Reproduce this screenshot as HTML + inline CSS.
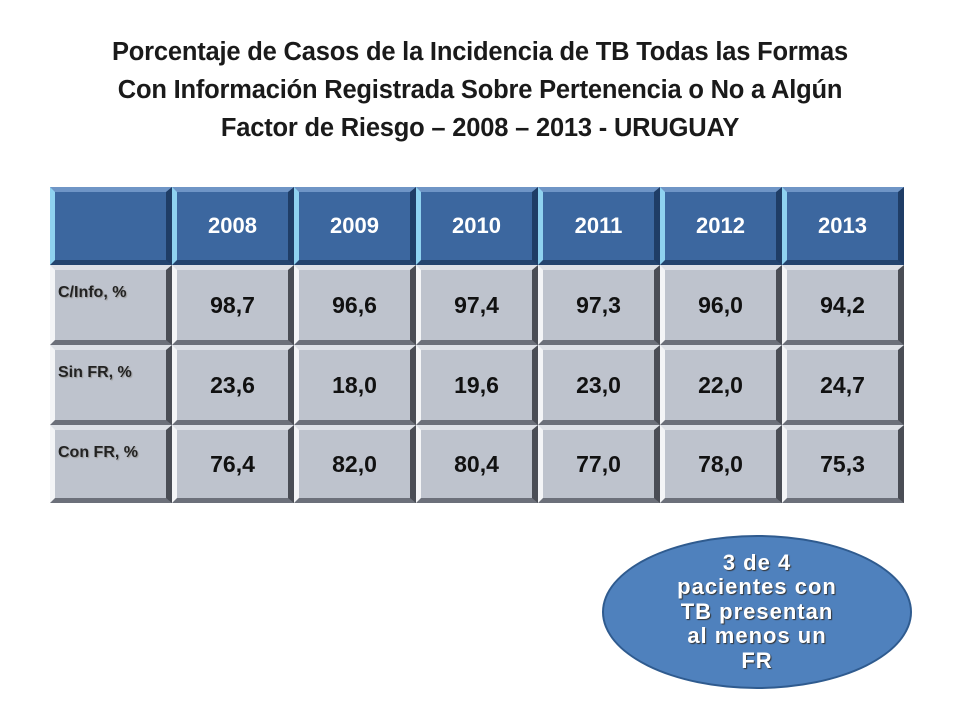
<!DOCTYPE html>
<html><head><meta charset="utf-8"><style>
body{margin:0;width:960px;height:720px;background:#fff;position:relative;overflow:hidden;font-family:"Liberation Sans",Arial,sans-serif}
.title{position:absolute;left:0;top:33px;width:960px;text-align:center;font-weight:bold;font-size:25.5px;line-height:38px;color:#1a1a1a;letter-spacing:-0.2px}
.cell{position:absolute;box-sizing:border-box;display:flex;align-items:center;justify-content:center;font-weight:bold;border-style:solid;border-width:5px 6px 5px 5px}
.hd{background:#3c679f;color:#fff;font-size:22px;border-color:#6f95c6 #1f3d66 #24446e #8fd2f0}
.bd{background:#bec3cd;color:#111;font-size:23px;border-color:#dde0e6 #4a4d55 #6c707a #f4f5f7}
.lb{justify-content:flex-start;align-items:flex-start;padding:14px 0 0 3px;font-size:16px;color:#222;text-shadow:1px 1px 1px #999}
.oval{position:absolute;left:602px;top:535px;width:310px;height:154px;border-radius:50%;background:#4f81bd;border:2px solid #2f5b8f;box-sizing:border-box;display:flex;align-items:center;justify-content:center;text-align:center;color:#fff;font-weight:bold;font-size:22px;line-height:24.5px;letter-spacing:1px;text-shadow:1px 1px 1px #333}
</style></head><body>
<div class="title">Porcentaje de Casos de la Incidencia de TB Todas las Formas<br>Con Información Registrada Sobre Pertenencia o No a Algún<br>Factor de Riesgo – 2008 – 2013 - URUGUAY</div>
<div id="tbl"></div>
<div class="oval">3 de 4<br>pacientes con<br>TB presentan<br>al menos un<br>FR</div>
<script>
const years=["2008","2009","2010","2011","2012","2013"];
const rowLabels=["C/Info, %","Sin FR, %","Con FR, %"];
const cinfo=["98,7","96,6","97,4","97,3","96,0","94,2"];
const sinfr=["23,6","18,0","19,6","23,0","22,0","24,7"];
const confr=["76,4","82,0","80,4","77,0","78,0","75,3"];
const rows=[cinfo,sinfr,confr];
const tbl=document.getElementById('tbl');
const colX=i=>i===0?50:172+(i-1)*122;
const colW=i=>122;
const rowY=[187,265,345,425], rowH=[78,80,80,78];
function mk(cls,x,y,w,h,t,name){const d=document.createElement('div');d.className='cell '+cls;d.style.left=x+'px';d.style.top=y+'px';d.style.width=w+'px';d.style.height=h+'px';d.textContent=t;


tbl.appendChild(d);}
mk('hd',colX(0),rowY[0],colW(0),rowH[0],'','header-corner');
years.forEach((y,i)=>mk('hd',colX(i+1),rowY[0],colW(i+1),rowH[0],y,'header-'+y));
rowLabels.forEach((l,r)=>{
 mk('bd lb',colX(0),rowY[r+1],colW(0),rowH[r+1],l,'row-label-'+(r+1));
 rows[r].forEach((v,i)=>mk('bd',colX(i+1),rowY[r+1],colW(i+1),rowH[r+1],v,'cell-r'+(r+1)+'-'+years[i]));
});
</script>
</body></html>
